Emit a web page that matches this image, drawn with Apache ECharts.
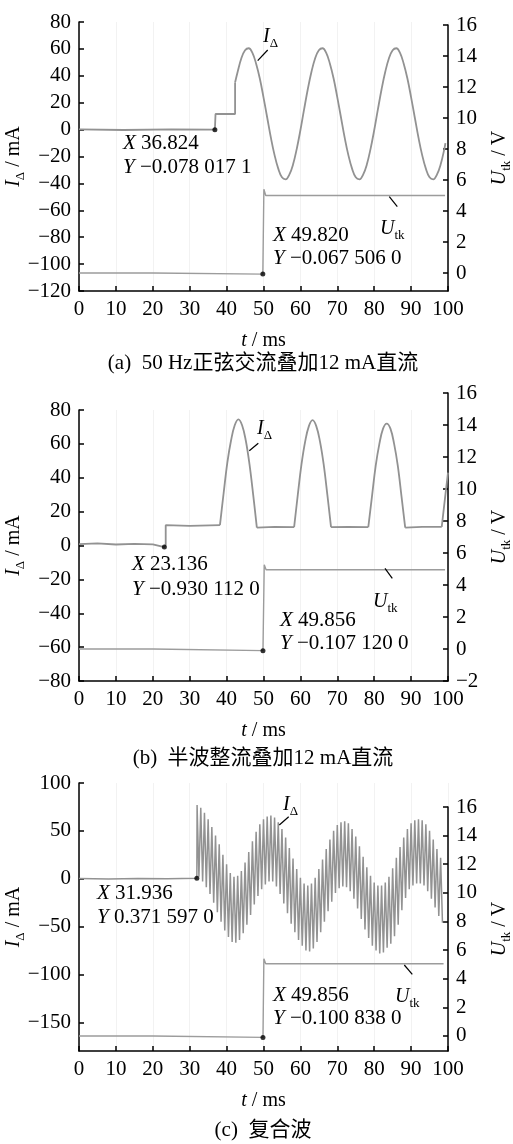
<!DOCTYPE html>
<html>
<head>
<meta charset="utf-8">
<script src="https://cdn.jsdelivr.net/npm/echarts@6/dist/echarts.min.js"></script>
<style>
html, body { margin: 0; padding: 0; background: #fff; }
#chart { width: 513px; height: 1144px; }
</style>
</head>
<body>
<div id="chart"></div>
<script>
// ---------- values (t in ms, I in mA, U in V) ----------

// (a) 50 Hz sine + 12 mA DC
const aIStepT = [0, 12, 25, 36.824, 37.0, 37.0, 42.3, 42.3];
const aIStepV = [0.1, -0.3, 0.2, -0.08, -0.08, 11.6, 11.6, 35];
const aIWaveT = [42.3, 43, 44, 45, 46, 47, 48, 49, 50, 51, 52, 53, 54, 55, 56, 57, 58, 59, 60, 61, 62,
  63, 64, 65, 66, 67, 68, 69, 70, 71, 72, 73, 74, 75, 76, 77, 78, 79, 80, 81, 82,
  83, 84, 85, 86, 87, 88, 89, 90, 91, 92, 93, 94, 95, 96, 97, 98, 99, 99.3];
const aIWaveV = [35, 43, 53, 59, 60.5, 57, 49, 38, 24, 9, -6, -19, -29, -35.5, -37, -33.5, -26, -14.5, -0.5, 15, 30,
  43, 53, 59, 60.5, 57, 49, 38, 24, 9, -6, -19, -29, -35.5, -37, -33.5, -26, -14.5, -0.5, 15, 30,
  43, 53, 59, 60.5, 57, 49, 38, 24, 9, -6, -19, -29, -35.5, -37, -33.5, -26, -14.5, -10];
const aUT = [0, 20, 49.82, 50.1, 50.1, 50.6, 99.2];
const aUV = [0, 0, -0.07, -0.07, 5.4, 5.0, 5.0];
const aMarkI = [36.824, -0.0780171];
const aMarkU = [49.82, -0.067506];

// (b) half-wave rectified + 12 mA DC
const bBaseT = [0, 5, 10, 15, 20, 23.136, 23.5, 23.5, 30, 38.2];
const bBaseV = [0.8, 1.2, 0.6, 1.0, 0.7, -0.93, 0.5, 12, 11.6, 12];
const bHump1T = [38.2, 39.2, 40.2, 41.2, 42.2, 43.2, 44.2, 45.2, 46.2, 47.2, 48.2];
const bHump1V = [12, 31, 49, 62, 71, 74.5, 71, 62, 48, 30, 10.5];
const bFlat2T = [48.2, 53, 58.3];
const bFlat2V = [10.5, 11, 10.8];
const bHump2T = [58.3, 59.3, 60.3, 61.3, 62.3, 63.3, 64.3, 65.3, 66.3, 67.3, 68.3];
const bHump2V = [10.8, 30, 48, 61.5, 70.5, 74, 70.5, 61.5, 48, 30, 10.8];
const bFlat3T = [68.3, 73, 78.4];
const bFlat3V = [10.8, 11, 10.8];
const bHump3T = [78.4, 79.4, 80.4, 81.4, 82.4, 83.4, 84.4, 85.4, 86.4, 87.4, 88.4];
const bHump3V = [10.8, 29, 47, 60, 69, 72, 69, 60, 47, 29, 10.5];
const bFlat4T = [88.4, 93, 98.3];
const bFlat4V = [10.5, 11, 11];
const bRiseT = [98.3, 99.3, 100];
const bRiseV = [11, 30, 43];
const bUT = [0, 20, 49.856, 50.2, 50.2, 50.7, 99.2];
const bUV = [0, 0, -0.1, -0.1, 5.27, 4.95, 4.95];
const bMarkI = [23.136, -0.930112];
const bMarkU = [49.856, -0.10712];

// (c) composite wave
const cFlatT = [0, 8, 16, 24, 31.936];
const cFlatV = [0.2, -0.2, 0.3, -0.1, 0.37];
const cPeakT = [32, 33, 34, 35, 36, 37, 38, 39, 40, 41, 42, 43, 44, 45, 46, 47, 48, 49, 50, 51,
  52, 53, 54, 55, 56, 57, 58, 59, 60, 61, 62, 63, 64, 65, 66, 67, 68, 69, 70, 71,
  72, 73, 74, 75, 76, 77, 78, 79, 80, 81, 82, 83, 84, 85, 86, 87, 88, 89, 90, 91,
  92, 93, 94, 95, 96, 97, 98];
const cPeakV = [77, 74, 69, 62, 54, 45, 36, 25, 15, 6, 2, 3, 8, 17, 28, 39, 49, 57, 62, 65,
  66, 64, 59, 52, 43, 32, 21, 10, 1, -5, -7, -5, 1, 10, 20, 31, 41, 50, 56, 59,
  60, 58, 52, 44, 34, 23, 12, 3, -4, -7, -7, -4, 2, 11, 22, 33, 43, 52, 58, 61,
  62, 61, 57, 50, 41, 31, 22];
const cDipT = [32.5, 33.5, 34.5, 35.5, 36.5, 37.5, 38.5, 39.5, 40.5, 41.5, 42.5, 43.5, 44.5, 45.5, 46.5, 47.5, 48.5, 49.5, 50.5, 51.5,
  52.5, 53.5, 54.5, 55.5, 56.5, 57.5, 58.5, 59.5, 60.5, 61.5, 62.5, 63.5, 64.5, 65.5, 66.5, 67.5, 68.5, 69.5, 70.5, 71.5,
  72.5, 73.5, 74.5, 75.5, 76.5, 77.5, 78.5, 79.5, 80.5, 81.5, 82.5, 83.5, 84.5, 85.5, 86.5, 87.5, 88.5, 89.5, 90.5, 91.5,
  92.5, 93.5, 94.5, 95.5, 96.5, 97.5, 98.5];
const cDipV = [2, -3, -9, -16, -25, -35, -45, -54, -61, -66, -67, -64, -57, -48, -38, -27, -18, -11, -6, -3,
  -3, -8, -16, -26, -36, -47, -56, -64, -70, -75, -76, -73, -66, -56, -45, -34, -24, -15, -10, -8,
  -9, -13, -21, -31, -42, -53, -62, -70, -75, -78, -77, -72, -68, -60, -48, -33, -20, -11, -7, -5,
  -5, -7, -13, -21, -30, -39, -46];
const cUT = [0, 20, 49.856, 50.1, 50.1, 50.6, 98.8];
const cUV = [0, 0, -0.1, -0.1, 5.4, 5.05, 5.05];
const cMarkI = [31.936, 0.3715970];
const cMarkU = [49.856, -0.100838];

// tick labels
const tTicks = [0, 10, 20, 30, 40, 50, 60, 70, 80, 90, 100];
const uTicks = [0, 2, 4, 6, 8, 10, 12, 14, 16];
const cITicks = [-150, -100, -50, 0, 50, 100];

// ---------- drawing ----------
const chart = echarts.init(document.getElementById('chart'));

const SERIF = 'Liberation Serif';
const CAPTION_FONT = '21px Liberation Serif, Noto Sans CJK SC';
const TRACE = '#929292';
const UTRACE = '#9c9c9c';

function pairs(t, v) { return t.map((x, i) => [x, v[i]]); }
function minus(v) { return String(v).replace('-', '\u2212'); }

const rich = {
  i: { fontFamily: SERIF, fontStyle: 'italic', fontSize: 20, color: '#000', verticalAlign: 'middle' },
  n: { fontFamily: SERIF, fontSize: 20, color: '#000', verticalAlign: 'middle' },
  s: { fontFamily: SERIF, fontSize: 13, color: '#000', lineHeight: 27, verticalAlign: 'bottom' }
};
const readRich = {
  i: { fontFamily: SERIF, fontStyle: 'italic', fontSize: 21, color: '#000' },
  n: { fontFamily: SERIF, fontSize: 21, color: '#000' }
};

const blackLine = { color: '#000', width: 1.5 };
const tickFont = { color: '#000', fontFamily: SERIF, fontSize: 21 };

const grids = [
  { left: 79, width: 369, top: 22, height: 269 },
  { left: 79, width: 369, top: 25, height: 266 },
  { left: 79, width: 369, top: 410, height: 271 },
  { left: 79, width: 369, top: 393, height: 288 },
  { left: 79, width: 369, top: 783, height: 268 },
  { left: 79, width: 369, top: 807, height: 244 }
].map(g => Object.assign(g, { containLabel: false, outerBoundsMode: 'none' }));

function timeAxis(gridIndex) {
  return {
    type: 'value', gridIndex, min: 0, max: 100, interval: 10,
    axisLine: { show: true, onZero: false, lineStyle: blackLine },
    axisTick: { show: true, inside: true, length: 5, lineStyle: blackLine },
    axisLabel: Object.assign({ margin: 8 }, tickFont),
    splitLine: { show: true, lineStyle: { color: '#f2f2f2', width: 1 } },
    name: '{i|t}{n| / ms}', nameLocation: 'middle', nameGap: 40, nameMoveOverlap: false,
    nameTextStyle: { rich }
  };
}
function hiddenAxis(gridIndex) {
  return { type: 'value', gridIndex, min: 0, max: 100, show: false };
}

function leftAxis(gridIndex, min, max, interval, custom) {
  const ax = {
    type: 'value', gridIndex, position: 'left', min, max,
    axisLine: { show: true, onZero: false, lineStyle: blackLine },
    axisTick: { show: true, inside: true, length: 5, lineStyle: blackLine },
    axisLabel: Object.assign({ margin: 8, formatter: minus }, tickFont),
    splitLine: { show: false },
    name: '{i|I}{s|\u0394}{n| / mA}', nameLocation: 'middle', nameRotate: 90, nameGap: 52,
    nameMoveOverlap: false,
    nameTextStyle: { rich }
  };
  if (interval) ax.interval = interval;
  if (custom) { ax.axisTick.customValues = custom; ax.axisLabel.customValues = custom; }
  return ax;
}
function rightAxis(gridIndex, min, max, interval, custom) {
  const ax = {
    type: 'value', gridIndex, position: 'right', min, max,
    axisLine: { show: true, onZero: false, lineStyle: blackLine },
    axisTick: { show: true, inside: true, length: 5, lineStyle: blackLine },
    axisLabel: Object.assign({ margin: 8, formatter: minus }, tickFont),
    splitLine: { show: false },
    name: '{i|U}{s|tk}{n| / V}', nameLocation: 'middle', nameRotate: 90, nameGap: 38,
    nameMoveOverlap: false,
    nameTextStyle: { rich }
  };
  if (interval) ax.interval = interval;
  if (custom) { ax.axisTick.customValues = custom; ax.axisLabel.customValues = custom; }
  return ax;
}

function trace(xi, t, v, opts) {
  return Object.assign({
    type: 'line', xAxisIndex: xi, yAxisIndex: xi, data: pairs(t, v),
    showSymbol: false, symbol: 'none', silent: true,
    lineStyle: { color: TRACE, width: 1.8 }
  }, opts || {});
}
function dots(xi, pts) {
  return {
    type: 'scatter', xAxisIndex: xi, yAxisIndex: xi, data: pts,
    symbolSize: 5, itemStyle: { color: '#000' }, z: 5, silent: true
  };
}

const cRipple = pairs(cFlatT, cFlatV);
cPeakT.forEach((t, i) => {
  cRipple.push([t, cPeakV[i]]);
  cRipple.push([cDipT[i], cDipV[i]]);
});

const uStyle = { lineStyle: { color: UTRACE, width: 1.4 } };
const smooth = { smooth: 0.4 };

const series = [
  trace(0, aIStepT, aIStepV),
  trace(0, aIWaveT, aIWaveV, smooth),
  trace(1, aUT, aUV, uStyle),
  dots(0, [aMarkI]),
  dots(1, [aMarkU]),

  trace(2, bBaseT, bBaseV),
  trace(2, bHump1T, bHump1V, smooth),
  trace(2, bFlat2T, bFlat2V),
  trace(2, bHump2T, bHump2V, smooth),
  trace(2, bFlat3T, bFlat3V),
  trace(2, bHump3T, bHump3V, smooth),
  trace(2, bFlat4T, bFlat4V),
  trace(2, bRiseT, bRiseV, smooth),
  trace(3, bUT, bUV, uStyle),
  dots(2, [bMarkI]),
  dots(3, [bMarkU]),

  Object.assign(trace(4, [], []), { data: cRipple, lineStyle: { color: TRACE, width: 1.5 } }),
  trace(5, cUT, cUV, uStyle),
  dots(4, [cMarkI]),
  dots(5, [cMarkU])
];

function readout(x, y, label, value) {
  return {
    type: 'text', x, y, z: 10, silent: true,
    style: { text: '{i|' + label + '}{n| ' + value + '}', rich: readRich, verticalAlign: 'middle', align: 'left' }
  };
}
function tag(x, y, main, sub) {
  return {
    type: 'text', x, y, z: 10, silent: true,
    style: { text: '{i|' + main + '}{s|' + sub + '}', rich, verticalAlign: 'middle', align: 'left' }
  };
}
function leader(x1, y1, x2, y2) {
  return { type: 'line', z: 10, silent: true, shape: { x1, y1, x2, y2 }, style: { stroke: '#000', lineWidth: 1.2 } };
}
function caption(y, text) {
  return {
    type: 'text', x: 263, y, z: 10, silent: true,
    style: { text, font: CAPTION_FONT, fill: '#000', align: 'center', verticalAlign: 'middle' }
  };
}

const graphic = [
  readout(123, 143, 'X', '36.824'),
  readout(123, 167, 'Y', '\u22120.078 017 1'),
  readout(273, 235, 'X', '49.820'),
  readout(273, 258, 'Y', '\u22120.067 506 0'),
  tag(263, 37, 'I', '\u0394'), leader(267.7, 50, 257.7, 60.7),
  tag(380, 229, 'U', 'tk'), leader(389.3, 196.7, 397.3, 206.7),
  caption(363, '(a)  50 Hz正弦交流叠加12 mA直流'),

  readout(132, 564, 'X', '23.136'),
  readout(132, 589, 'Y', '\u22120.930 112 0'),
  readout(280, 620, 'X', '49.856'),
  readout(280, 643, 'Y', '\u22120.107 120 0'),
  tag(257, 429, 'I', '\u0394'), leader(258.3, 443.3, 249.3, 450.7),
  tag(373, 602, 'U', 'tk'), leader(385, 568.3, 392.3, 578.3),
  caption(758, '(b)  半波整流叠加12 mA直流'),

  readout(97, 893, 'X', '31.936'),
  readout(97, 917, 'Y', '0.371 597 0'),
  readout(273, 995, 'X', '49.856'),
  readout(273, 1018, 'Y', '\u22120.100 838 0'),
  tag(283, 805, 'I', '\u0394'), leader(288.7, 816.7, 279.3, 825),
  tag(395, 997, 'U', 'tk'), leader(404.3, 965, 412.3, 974.3),
  caption(1130, '(c)  复合波')
];

chart.setOption({
  animation: false,
  backgroundColor: '#fff',
  grid: grids,
  xAxis: [timeAxis(0), hiddenAxis(1), timeAxis(2), hiddenAxis(3), timeAxis(4), hiddenAxis(5)],
  yAxis: [
    leftAxis(0, -120, 80, 20),
    rightAxis(1, -1.16, 16, null, uTicks),
    leftAxis(2, -80, 80, 20),
    rightAxis(3, -2, 16, 2),
    leftAxis(4, -180, 100, null, cITicks),
    rightAxis(5, -1.05, 16, null, uTicks)
  ],
  series,
  graphic
});
</script>
</body>
</html>
